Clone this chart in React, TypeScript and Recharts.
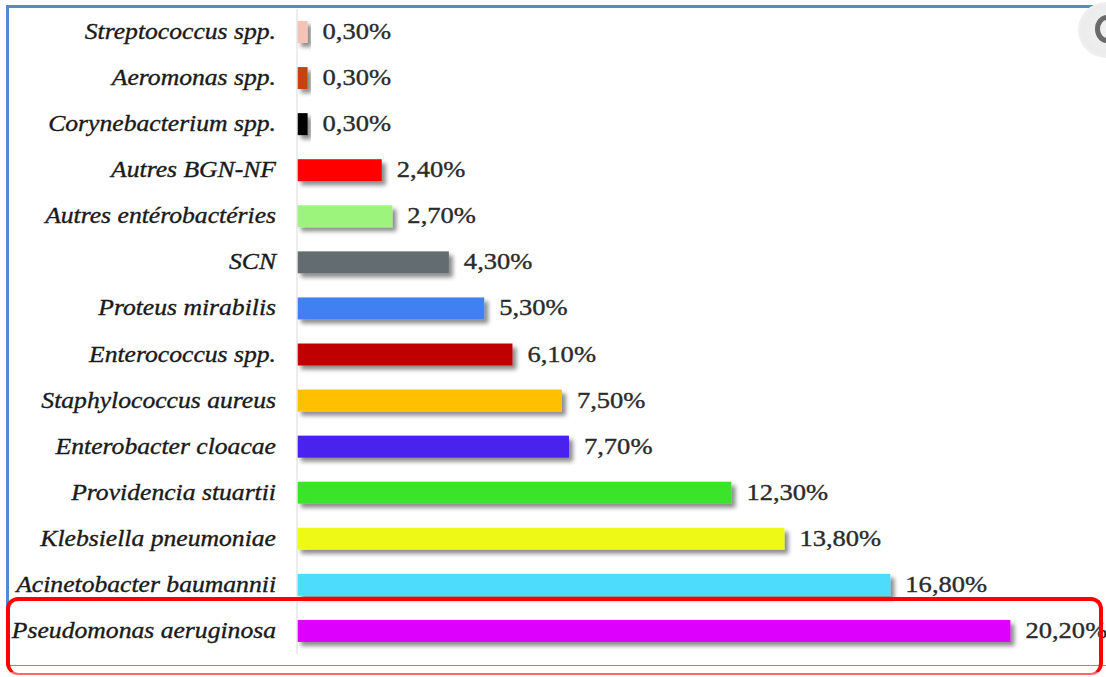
import { Bar, BarChart, Cell, LabelList, XAxis, YAxis } from "recharts";

const species = [
  "Streptococcus spp.",
  "Aeromonas spp.",
  "Corynebacterium spp.",
  "Autres BGN-NF",
  "Autres entérobactéries",
  "SCN",
  "Proteus mirabilis",
  "Enterococcus spp.",
  "Staphylococcus aureus",
  "Enterobacter cloacae",
  "Providencia stuartii",
  "Klebsiella pneumoniae",
  "Acinetobacter baumannii",
  "Pseudomonas aeruginosa",
];

const percents = [0.3, 0.3, 0.3, 2.4, 2.7, 4.3, 5.3, 6.1, 7.5, 7.7, 12.3, 13.8, 16.8, 20.2];

const barColors = [
  "#f6c4b6",
  "#c9420f",
  "#050505",
  "#ff0000",
  "#9cf47c",
  "#646c70",
  "#4180f0",
  "#c00000",
  "#ffc000",
  "#4a20ee",
  "#3ae32c",
  "#eefa12",
  "#4ddcfc",
  "#dc00fc",
];

const chartData = species.map((name, i) => ({
  name,
  value: percents[i],
  color: barColors[i],
}));

const serif = "'Liberation Serif', 'Times New Roman', serif";

const formatPercent = (v: unknown) => `${Number(v).toFixed(2).replace(".", ",")}%`;

// the source picture is stretched sideways, so the text gets a horizontal scale
function SpeciesTick({ x, y, payload }: any) {
  return (
    <g transform={`translate(${x},${y}) scale(1.14,1)`}>
      <text
        x={0}
        y={0}
        dy={7}
        textAnchor="end"
        fontFamily={serif}
        fontStyle="italic"
        fontSize={22.5}
        fill="#1a1a1a"
        stroke="#1a1a1a"
        strokeWidth={0.35}
      >
        {payload.value}
      </text>
    </g>
  );
}

function ValueLabel(props: any) {
  const { x, y, width, height, value } = props;
  const lx = Number(x) + Number(width) + 15;
  const ly = Number(y) + Number(height) / 2;
  return (
    <g transform={`translate(${lx},${ly}) scale(1.18,1)`}>
      <text
        x={0}
        y={0}
        dy={7}
        fontFamily={serif}
        fontSize={22.5}
        fill="#2b2b2b"
        stroke="#2b2b2b"
        strokeWidth={0.35}
      >
        {formatPercent(value)}
      </text>
    </g>
  );
}

function ShadowBar(props: any) {
  const { x, y, width, height, fill } = props;
  return <rect x={x} y={y} width={width} height={height} fill={fill} filter="url(#barShadow)" />;
}

export default function App() {
  return (
    <div
      style={{
        position: "absolute",
        left: 0,
        top: 0,
        width: 1106,
        height: 677,
        background: "#ffffff",
        overflow: "hidden",
      }}
    >
      <svg width={0} height={0} style={{ position: "absolute" }}>
        <defs>
          <filter id="barShadow" x="-20%" y="-40%" width="150%" height="220%">
            <feDropShadow dx={4} dy={4} stdDeviation={2.2} floodColor="#000" floodOpacity={0.45} />
          </filter>
        </defs>
      </svg>

      {/* blue frame */}
      <div
        style={{
          position: "absolute",
          left: 6,
          top: 5,
          width: 1110,
          height: 657,
          borderTop: "3px solid #5589cb",
          borderLeft: "3px solid #5589cb",
          borderBottom: "1.5px solid #6d95cf",
        }}
      />

      {/* grey round button, top right */}
      <div
        style={{
          position: "absolute",
          left: 1078,
          top: 2,
          width: 56,
          height: 56,
          borderRadius: "50%",
          background: "radial-gradient(circle, #f0f0f0 0%, #ececec 60%, #fbfbfb 100%)",
        }}
      />
      <div
        style={{
          position: "absolute",
          left: 1095,
          top: 15,
          width: 24,
          height: 28,
          borderRadius: "50%",
          border: "5px solid #6a6a6a",
          boxSizing: "border-box",
        }}
      />

      <div style={{ position: "absolute", left: 0, top: 0 }}>
        <BarChart
          width={1106}
          height={677}
          data={chartData}
          layout="vertical"
          margin={{ top: 9, right: 32, bottom: 23, left: 0 }}
        >
          <XAxis type="number" domain={[0, 22]} hide />
          <YAxis
            type="category"
            dataKey="name"
            width={297}
            axisLine={{ stroke: "#e6e6e6", strokeWidth: 1.5 }}
            tickLine={false}
            tickSize={0}
            tickMargin={21}
            interval={0}
            tick={<SpeciesTick />}
          />
          <Bar dataKey="value" barSize={22} isAnimationActive={false} shape={<ShadowBar />}>
            {chartData.map((d) => (
              <Cell key={d.name} fill={d.color} />
            ))}
            <LabelList dataKey="value" content={<ValueLabel />} />
          </Bar>
        </BarChart>
      </div>

      {/* red highlight box */}
      <div
        style={{
          position: "absolute",
          left: 6,
          top: 597,
          width: 1097,
          height: 78,
          border: "4px solid #ff0000",
          borderBottomColor: "#ff6666",
          borderBottomWidth: 2,
          borderRadius: 12,
          boxSizing: "border-box",
        }}
      />
    </div>
  );
}
